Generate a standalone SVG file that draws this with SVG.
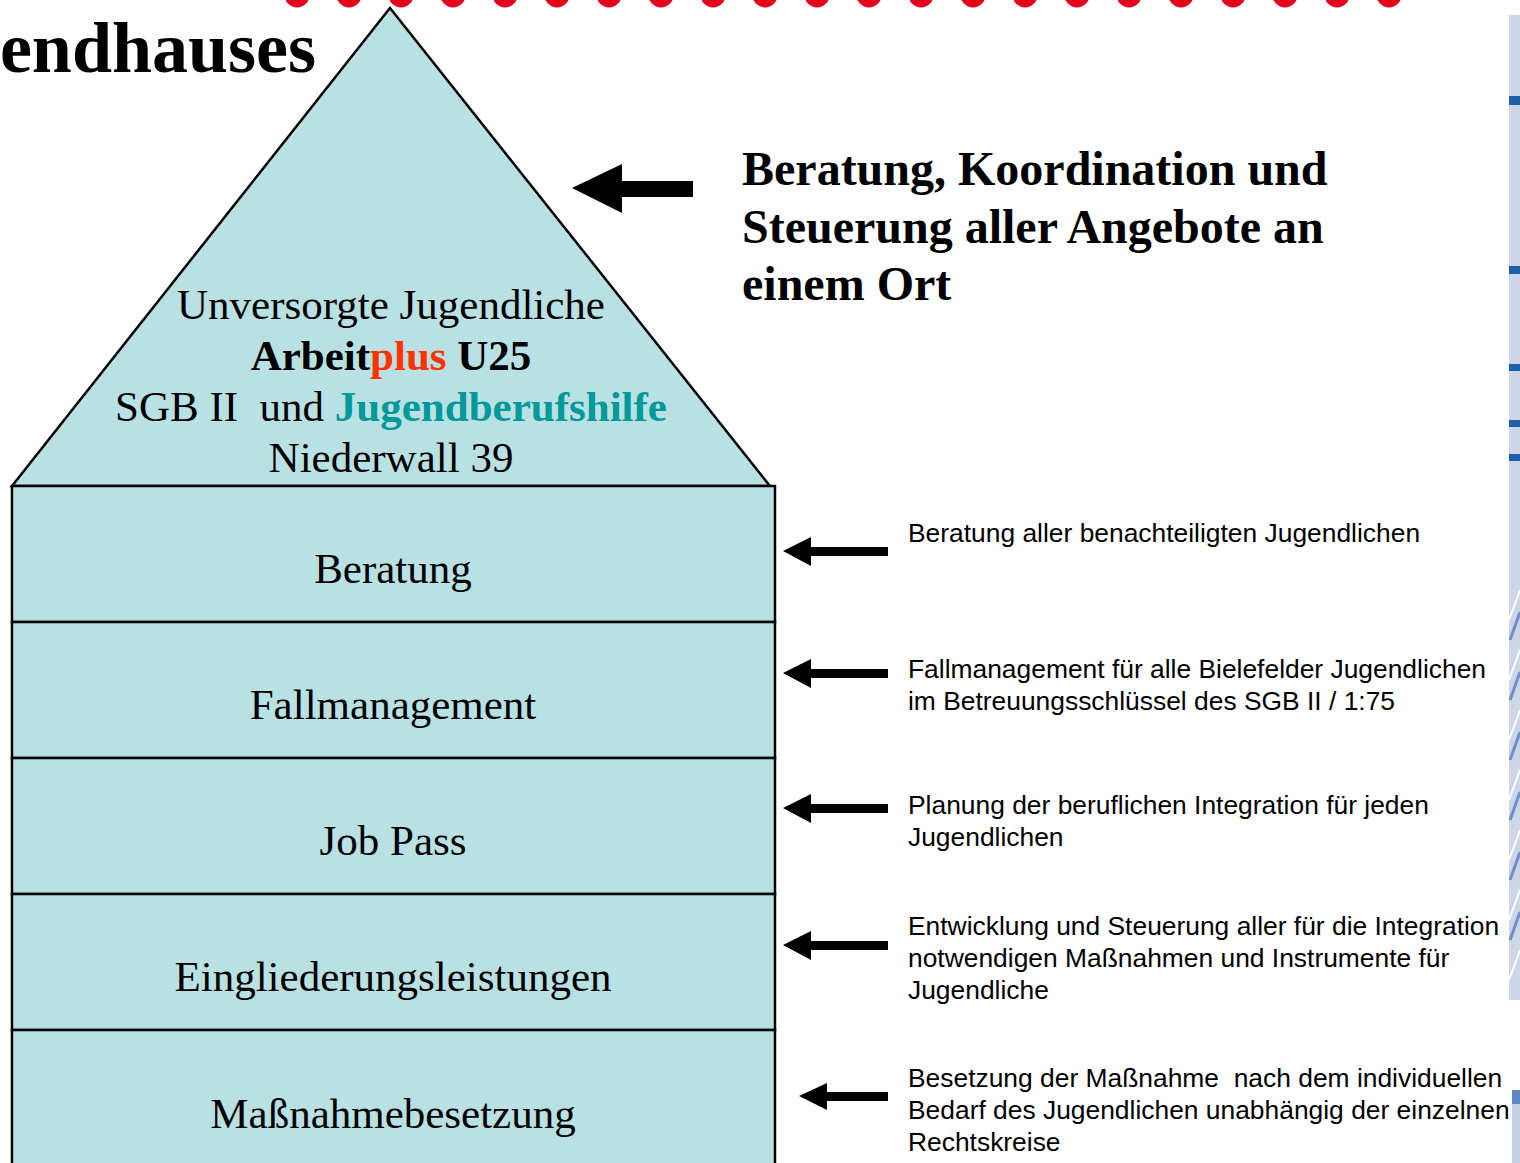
<svg xmlns="http://www.w3.org/2000/svg" width="1520" height="1163" viewBox="0 0 1520 1163">
<style>
.serif{font-family:"Liberation Serif","Times New Roman",serif;}
.sans{font-family:"Liberation Sans",Arial,sans-serif;font-size:26.4px;fill:#000;white-space:pre;}
.box{fill:#b9e0e3;stroke:#000;stroke-width:2.5;}
.lbl{font-family:"Liberation Serif","Times New Roman",serif;font-size:43px;text-anchor:middle;fill:#000;white-space:pre;}
.arr{fill:#000;}
.dot{fill:#e2001a;}
</style>
<rect width="1520" height="1163" fill="#fff"/>
<g id="dots">
<circle class="dot" cx="297" cy="-5" r="12.5"/><circle class="dot" cx="349" cy="-5" r="12.5"/><circle class="dot" cx="401" cy="-5" r="12.5"/><circle class="dot" cx="453" cy="-5" r="12.5"/><circle class="dot" cx="505" cy="-5" r="12.5"/><circle class="dot" cx="557" cy="-5" r="12.5"/><circle class="dot" cx="609" cy="-5" r="12.5"/><circle class="dot" cx="661" cy="-5" r="12.5"/><circle class="dot" cx="713" cy="-5" r="12.5"/><circle class="dot" cx="765" cy="-5" r="12.5"/><circle class="dot" cx="817" cy="-5" r="12.5"/><circle class="dot" cx="869" cy="-5" r="12.5"/><circle class="dot" cx="921" cy="-5" r="12.5"/><circle class="dot" cx="973" cy="-5" r="12.5"/><circle class="dot" cx="1025" cy="-5" r="12.5"/><circle class="dot" cx="1077" cy="-5" r="12.5"/><circle class="dot" cx="1129" cy="-5" r="12.5"/><circle class="dot" cx="1181" cy="-5" r="12.5"/><circle class="dot" cx="1233" cy="-5" r="12.5"/><circle class="dot" cx="1285" cy="-5" r="12.5"/><circle class="dot" cx="1337" cy="-5" r="12.5"/><circle class="dot" cx="1389" cy="-5" r="12.5"/>
</g>
<g id="strip">
<rect x="1509" y="15" width="11" height="985" fill="#cdd6e8"/>
<rect x="1509" y="96" width="11" height="9" fill="#1f5fa8"/>
<rect x="1509" y="266" width="11" height="8" fill="#1f5fa8"/>
<rect x="1509" y="364" width="11" height="7" fill="#1f5fa8"/>
<rect x="1509" y="420" width="11" height="7" fill="#1f5fa8"/>
<rect x="1509" y="454" width="11" height="7" fill="#1f5fa8"/>
<g stroke="#ffffff" stroke-width="2" fill="none">
<path d="M1509 620 L1520 590 M1509 680 L1520 650 M1509 740 L1520 710 M1509 800 L1520 770 M1509 860 L1520 830 M1509 920 L1520 890 M1509 980 L1520 950"/>
</g>
<g stroke="#6f8fc8" stroke-width="3" fill="none">
<path d="M1510 640 L1520 612 M1510 700 L1520 672 M1510 760 L1520 732 M1510 820 L1520 792 M1510 880 L1520 852 M1510 940 L1520 912"/>
</g>
<rect x="1512" y="1090" width="8" height="73" fill="#c4d0e4"/>
<rect x="1512" y="1090" width="8" height="14" fill="#5f86c0"/>
</g>
<g id="title">
<text class="serif" x="316" y="72" font-size="72" font-weight="bold" text-anchor="end">endhauses</text>
</g>
<g id="roof">
<polygon class="box" points="12,486 390,8 770,486"/>
<text class="lbl" x="391" y="319">Unversorgte Jugendliche</text>
<text class="lbl" x="391" y="370" font-weight="bold">Arbeit<tspan fill="#ff3300">plus</tspan> U25</text>
<text class="lbl" x="391" y="421">SGB II  und <tspan font-weight="bold" fill="#009999">Jugendberufshilfe</tspan></text>
<text class="lbl" x="391" y="472">Niederwall 39</text>
</g>
<g id="beratung">
<rect class="box" x="12" y="486" width="763" height="136"/>
<text class="lbl" x="393" y="583">Beratung</text>
</g>
<g id="fallmanagement">
<rect class="box" x="12" y="622" width="763" height="136"/>
<text class="lbl" x="393" y="719">Fallmanagement</text>
</g>
<g id="jobpass">
<rect class="box" x="12" y="758" width="763" height="136"/>
<text class="lbl" x="393" y="855">Job Pass</text>
</g>
<g id="eingliederung">
<rect class="box" x="12" y="894" width="763" height="136"/>
<text class="lbl" x="393" y="991">Eingliederungsleistungen</text>
</g>
<g id="massnahme">
<rect class="box" x="12" y="1030" width="763" height="150"/>
<text class="lbl" x="393" y="1128">Maßnahmebesetzung</text>
</g>
<g id="heading">
<text class="serif" font-size="48" font-weight="bold" x="742" y="185">Beratung, Koordination und</text>
<text class="serif" font-size="48" font-weight="bold" x="742" y="243">Steuerung aller Angebote an</text>
<text class="serif" font-size="48" font-weight="bold" x="742" y="300">einem Ort</text>
</g>
<g id="desc1"><text class="sans" x="908" y="542">Beratung aller benachteiligten Jugendlichen</text></g>
<g id="desc2"><text class="sans" x="908" y="678">Fallmanagement für alle Bielefelder Jugendlichen</text><text class="sans" x="908" y="710">im Betreuungsschlüssel des SGB II / 1:75</text></g>
<g id="desc3"><text class="sans" x="908" y="814">Planung der beruflichen Integration für jeden</text><text class="sans" x="908" y="846">Jugendlichen</text></g>
<g id="desc4"><text class="sans" x="908" y="935">Entwicklung und Steuerung aller für die Integration</text><text class="sans" x="908" y="967">notwendigen Maßnahmen und Instrumente für</text><text class="sans" x="908" y="999">Jugendliche</text></g>
<g id="desc5"><text class="sans" x="908" y="1087">Besetzung der Maßnahme  nach dem individuellen</text><text class="sans" x="908" y="1119">Bedarf des Jugendlichen unabhängig der einzelnen</text><text class="sans" x="908" y="1151">Rechtskreise</text></g>
<g id="connectors">
<polygon class="arr" points="572,188 622,164 622,181 693,181 693,197 622,197 622,213"/>
<polygon class="arr" points="783,551 811,537 811,547 888,547 888,556 811,556 811,566"/>
<polygon class="arr" points="783,673 811,659 811,669 888,669 888,678 811,678 811,688"/>
<polygon class="arr" points="783,808 811,794 811,804 888,804 888,813 811,813 811,823"/>
<polygon class="arr" points="783,945 811,931 811,941 888,941 888,950 811,950 811,960"/>
<polygon class="arr" points="799,1096 827,1083 827,1092 888,1092 888,1101 827,1101 827,1110"/>
</g>
</svg>
